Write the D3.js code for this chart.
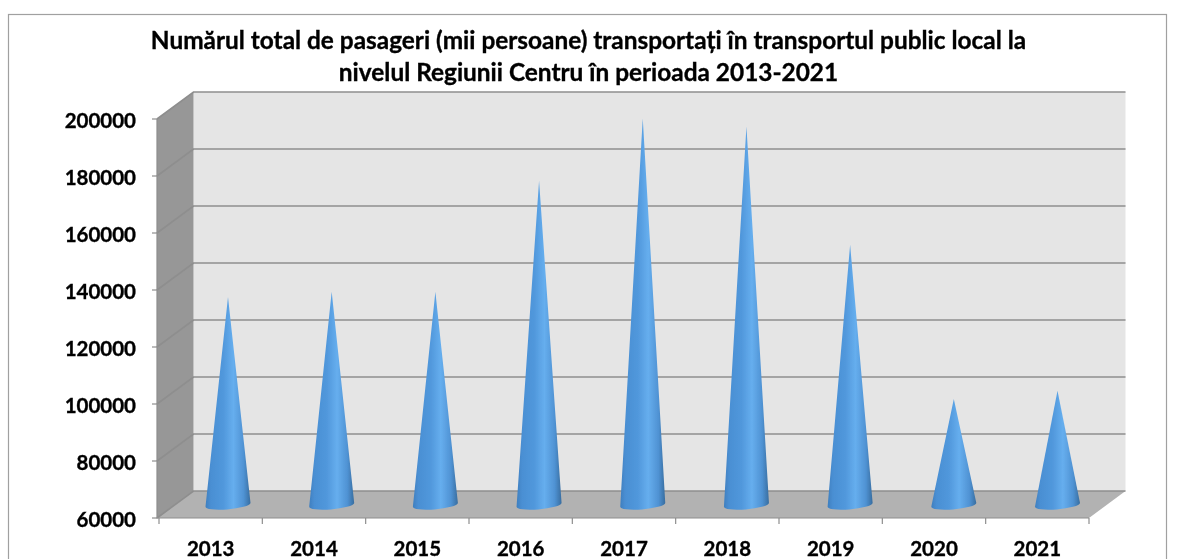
<!DOCTYPE html>
<html><head><meta charset="utf-8">
<script src="https://cdn.jsdelivr.net/npm/d3@7"></script>
<style>html,body{margin:0;padding:0;background:#fff}svg{display:block}text{font-family:Lato,"Open Sans",sans-serif;font-weight:700;fill:#000;stroke:#000;stroke-width:.35px}</style>
</head><body><div id="c"></div>
<script>
const years=["2013","2014","2015","2016","2017","2018","2019","2020","2021"];
const passengers=[133000,134800,134800,173800,195600,192800,151300,97200,100050];
const yTicks=[60000,80000,100000,120000,140000,160000,180000,200000];
const titleLines=["Numărul total de pasageri (mii persoane) transportați în transportul public local la","nivelul Regiunii Centru în perioada 2013-2021"];

const W=1178,H=559;
const svg=d3.select("#c").append("svg").attr("width",W).attr("height",H);
const x0=157,x1=1089,yBottom=518,yTop=119,dx=36.5,dy=27;
const x=d3.scaleBand().domain(years).range([x0+2,x1]).padding(0);
const coneX=d3.scalePoint().domain(years).range([228,1057.5]);
const y=d3.scaleLinear().domain([60000,200000]).range([yBottom,yTop]);

svg.append("rect").attr("x",8.5).attr("y",14.5).attr("width",1158).attr("height",560).attr("fill","#fff").attr("stroke","#a0a0a0").attr("stroke-width",1.2);

const defs=svg.append("defs");
const g=defs.append("linearGradient").attr("id","cone").attr("x1","0").attr("x2","1").attr("y1","0").attr("y2","0");
[[0,"#3f7fbf"],[0.12,"#4a8fd3"],[0.4,"#5198dc"],[0.62,"#66aeee"],[0.85,"#4f92d3"],[1,"#386d9f"]].forEach(d=>g.append("stop").attr("offset",d[0]).attr("stop-color",d[1]));
defs.append("filter").attr("id","soft").append("feGaussianBlur").attr("stdDeviation",0.45);
defs.append("filter").attr("id","softText").append("feGaussianBlur").attr("stdDeviation",0.3);

const scene=svg.append("g").attr("filter","url(#soft)");
scene.append("polygon").attr("points",[[x0+dx,yTop-dy],[x1+dx,yTop-dy],[x1+dx,yBottom-dy],[x0+dx,yBottom-dy]].join(" ")).attr("fill","#e5e5e5");
scene.append("polygon").attr("points",[[x0,yTop],[x0+dx,yTop-dy],[x0+dx,yBottom-dy],[x0,yBottom]].join(" ")).attr("fill","#979797");
scene.append("polygon").attr("points",[[x0,yBottom],[x0+dx,yBottom-dy],[x1+dx,yBottom-dy],[x1,yBottom]].join(" ")).attr("fill","#b2b2b2");
scene.selectAll("path.grid").data(yTicks).join("path").attr("class","grid")
  .attr("d",t=>`M${x0},${y(t)}L${x0+dx},${y(t)-dy}L${x1+dx},${y(t)-dy}`)
  .attr("fill","none").attr("stroke","#8e8e8e").attr("stroke-width",1.6);
scene.append("path").attr("d",`M${x0},${yTop}V${yBottom}H${x1}`).attr("fill","none").attr("stroke","#8e8e8e").attr("stroke-width",1.2);
scene.selectAll("line.yt").data(yTicks).join("line").attr("class","yt")
  .attr("x1",x0-5).attr("x2",x0).attr("y1",t=>y(t)).attr("y2",t=>y(t)).attr("stroke","#8e8e8e").attr("stroke-width",1.2);
const xTickPos=years.map(d=>x(d)).concat([x1]);
scene.selectAll("line.xt").data(xTickPos).join("line").attr("class","xt")
  .attr("x1",d=>d).attr("x2",d=>d).attr("y1",yBottom).attr("y2",yBottom+6).attr("stroke","#8e8e8e").attr("stroke-width",1.2);
// cones, with a base tilted by the chart's perspective
const rx=22.5,ry=4.6,depthY=13;
scene.selectAll("path.cone").data(years.map((d,i)=>({d,v:passengers[i]}))).join("path").attr("class","cone")
  .attr("d",o=>{
    const cx=coneX(o.d), by=y(60000)-depthY, top=y(o.v)-depthY;
    return `M${cx-rx},${by+1.5}L${cx},${top}L${cx+rx},${by-2}A${rx},${ry} -5 0 1 ${cx-rx},${by+1.5}Z`;
  }).attr("fill","url(#cone)");

const labels=svg.append("g").attr("filter","url(#softText)");
labels.selectAll("text.yl").data(yTicks).join("text").attr("class","yl")
  .attr("x",136).attr("y",t=>y(t)+8.5).attr("text-anchor","end").attr("font-size",20.5).text(t=>t);
labels.selectAll("text.xl").data(years).join("text").attr("class","xl")
  .attr("x",d=>x(d)+x.bandwidth()/2).attr("y",555.5).attr("text-anchor","middle").attr("font-size",20.5).text(d=>d);
labels.selectAll("text.t").data(titleLines).join("text").attr("class","t")
  .attr("x",588.5).attr("y",(d,i)=>48.5+i*32.5).attr("text-anchor","middle").attr("font-size",24.4).text(d=>d);
</script></body></html>
